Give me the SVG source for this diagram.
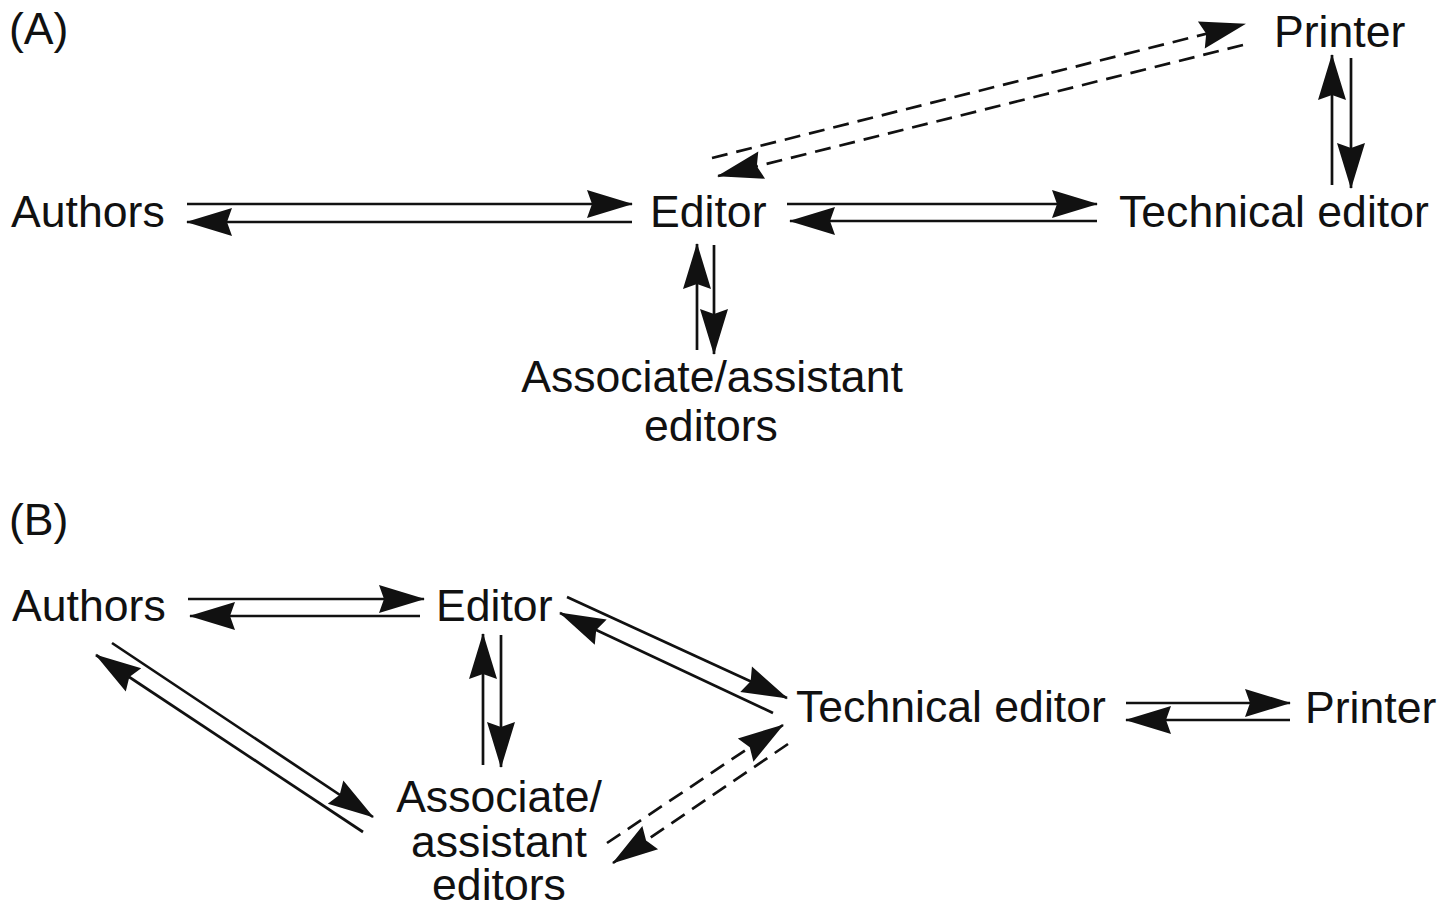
<svg xmlns="http://www.w3.org/2000/svg" width="1452" height="907" viewBox="0 0 1452 907">
<style>
text{font-family:"Liberation Sans",Arial,Helvetica,sans-serif;font-size:44.6px;fill:#111}
.c{text-anchor:middle}
.l{stroke:#111;stroke-width:2.7;fill:none;marker-end:url(#ah)}
.d{stroke-dasharray:16 9}
</style>
<defs>
<marker id="ah" markerUnits="userSpaceOnUse" viewBox="-48 -15 50 30" refX="0" refY="0" markerWidth="50" markerHeight="30" orient="auto" overflow="visible">
<path d="M1,0 L-45,-14 L-40,0 L-45,14 Z" fill="#111"/>
</marker>
</defs>
<rect width="1452" height="907" fill="#fff"/>
<g id="panelA-label"><text x="9" y="44">(A)</text></g>
<g id="panelB-label"><text x="9" y="535">(B)</text></g>

<g id="a-authors"><text x="11" y="227">Authors</text></g>
<g id="a-editor"><text x="650" y="227">Editor</text></g>
<g id="a-technical"><text x="1119" y="227">Technical editor</text></g>
<g id="a-printer"><text x="1274" y="47">Printer</text></g>
<g id="a-associate"><text class="c" x="712" y="392">Associate/assistant</text><text class="c" x="711" y="441">editors</text></g>

<g id="b-authors"><text x="12" y="621">Authors</text></g>
<g id="b-editor"><text x="436" y="621">Editor</text></g>
<g id="b-technical"><text x="796" y="722">Technical editor</text></g>
<g id="b-printer"><text x="1305" y="723">Printer</text></g>
<g id="b-associate"><text class="c" x="499" y="812">Associate/</text><text class="c" x="499" y="857">assistant</text><text class="c" x="499" y="900">editors</text></g>

<g id="connectors">
<!-- Panel A -->
<path class="l" d="M187,204 L632,204"/>
<path class="l" d="M632,222 L187,222"/>
<path class="l" d="M787,204 L1097,204"/>
<path class="l" d="M1097,221 L790,221"/>
<path class="l" d="M697,350 L697,244"/>
<path class="l" d="M714,245 L714,354"/>
<path class="l" d="M1332,185 L1332,55"/>
<path class="l" d="M1351,58 L1351,188"/>
<path class="l d" d="M712,158 L1245,24"/>
<path class="l d" d="M1243,45 L718,176"/>
<!-- Panel B -->
<path class="l" d="M188,599 L424,599"/>
<path class="l" d="M420,616 L190,616"/>
<path class="l" d="M483,765 L483,634"/>
<path class="l" d="M501,635 L501,767"/>
<path class="l" d="M567,597 L787,698"/>
<path class="l" d="M773,713 L560,613"/>
<path class="l" d="M112,643 L373,817"/>
<path class="l" d="M363,832 L96,655"/>
<path class="l d" d="M607,843 L783,725"/>
<path class="l d" d="M788,744 L613,863"/>
<path class="l" d="M1126,703 L1290,703"/>
<path class="l" d="M1290,720 L1126,720"/>
</g>
</svg>
